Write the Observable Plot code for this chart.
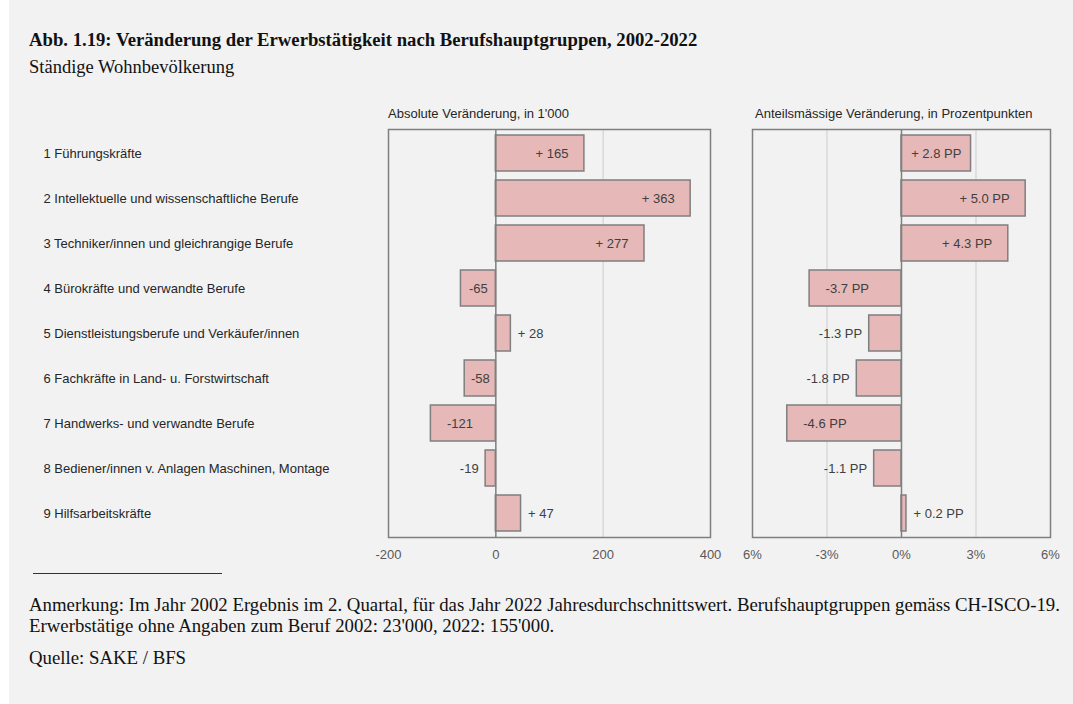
<!DOCTYPE html>
<html>
<head>
<meta charset="utf-8">
<script src="https://cdn.jsdelivr.net/npm/d3@7"></script>
<script src="https://cdn.jsdelivr.net/npm/@observablehq/plot@0.6"></script>
<style>
  html, body { margin: 0; padding: 0; background: #ffffff; }
  #page { position: relative; width: 1073px; height: 704px; background: #ffffff; overflow: hidden; }
  #bg { position: absolute; left: 9px; top: 0; width: 1064px; height: 704px; background: #f2f2f2; }
  .serif { font-family: "Liberation Serif", "Times New Roman", serif; color: #111; position: absolute; white-space: nowrap; }
  .sans { font-family: "Liberation Sans", Arial, sans-serif; color: #262626; position: absolute; white-space: nowrap; }
  svg { overflow: visible; }
</style>
</head>
<body>
<div id="page">
  <div id="bg"></div>
  <div class="serif" id="title" style="left:29px; top:29px; font-size:18.7px; font-weight:bold;"></div>
  <div class="serif" id="subtitle" style="left:29px; top:57px; font-size:18.5px;"></div>
  <div class="sans" id="t1" style="left:388px; top:106px; font-size:13px;"></div>
  <div class="sans" id="t2" style="left:755px; top:106px; font-size:13px;"></div>
  <div id="left" style="position:absolute; left:0px; top:119px;"></div>
  <div id="right" style="position:absolute; left:740px; top:119px;"></div>
  <div style="position:absolute; left:33px; top:573px; width:189px; border-top:1px solid #333;"></div>
  <div class="serif" id="note" style="left:29px; top:594px; font-size:18.8px; line-height:21px;"></div>
  <div class="serif" id="source" style="left:29px; top:647px; font-size:18.8px; line-height:21px;"></div>
</div>
<script>
// ---------- data ----------
const titleText = "Abb. 1.19: Veränderung der Erwerbstätigkeit nach Berufshauptgruppen, 2002-2022";
const subtitleText = "Ständige Wohnbevölkerung";
const panelTitleAbs = "Absolute Veränderung, in 1'000";
const panelTitlePP = "Anteilsmässige Veränderung, in Prozentpunkten";
const noteLines = [
  "Anmerkung: Im Jahr 2002 Ergebnis im 2. Quartal, für das Jahr 2022 Jahresdurchschnittswert. Berufshauptgruppen gemäss CH-ISCO-19.",
  "Erwerbstätige ohne Angaben zum Beruf 2002: 23'000, 2022: 155'000."
];
const sourceText = "Quelle: SAKE / BFS";

const categories = [
  "1 Führungskräfte",
  "2 Intellektuelle und wissenschaftliche Berufe",
  "3 Techniker/innen und gleichrangige Berufe",
  "4 Bürokräfte und verwandte Berufe",
  "5 Dienstleistungsberufe und Verkäufer/innen",
  "6 Fachkräfte in Land- u. Forstwirtschaft",
  "7 Handwerks- und verwandte Berufe",
  "8 Bediener/innen v. Anlagen Maschinen, Montage",
  "9 Hilfsarbeitskräfte"
];
const absChange = [165, 363, 277, -65, 28, -58, -121, -19, 47];
const ppChange = [2.8, 5.0, 4.3, -3.7, -1.3, -1.8, -4.6, -1.1, 0.2];
const absDomain = [-200, 400];
const absTicks = [-200, 0, 200, 400];
const ppDomain = [-6, 6];
const ppTicks = [-6, -3, 0, 3, 6];
const ppTickLabels = ["6%", "-3%", "0%", "3%", "6%"];

// ---------- text ----------
document.getElementById("title").textContent = titleText;
document.getElementById("subtitle").textContent = subtitleText;
document.getElementById("t1").textContent = panelTitleAbs;
document.getElementById("t2").textContent = panelTitlePP;
document.getElementById("note").innerHTML = noteLines.map(s => s.replace(/&/g,"&amp;")).join("<br>");
document.getElementById("source").textContent = sourceText;

// ---------- helpers ----------
const FONT = "'Liberation Sans', Arial, sans-serif";
const LABEL_SIZE = 13;
const ctx = document.createElement("canvas").getContext("2d");
ctx.font = `${LABEL_SIZE}px ${FONT}`;
const measure = s => ctx.measureText(s).width;

const fmtAbs = v => v > 0 ? "+ " + v : String(v);
const fmtPP = v => v > 0 ? "+ " + v.toFixed(1) + " PP" : v.toFixed(1) + " PP";

function makeLabels(values, fmt, ppu) {
  const groups = {start: [], middle: [], end: []};
  values.forEach((v, i) => {
    const txt = fmt(v);
    const tw = measure(txt);
    const w = Math.abs(v) * ppu;
    const s = v >= 0 ? 1 : -1;
    if (w >= tw + 10) {
      if (w > tw + 32) {
        groups[s > 0 ? "end" : "start"].push({cat: categories[i], x: v - s * 16 / ppu, txt});
      } else {
        groups.middle.push({cat: categories[i], x: v / 2, txt});
      }
    } else {
      groups[s > 0 ? "start" : "end"].push({cat: categories[i], x: v + s * 7 / ppu, txt});
    }
  });
  return groups;
}

const FRAME = "#7f7f7f";
const FILL = "#e6b8b7";
const GRID = "#d9d9d9";
const TOP = 10, INNER_H = 408, BOTTOM = 40;

function panel({values, fmt, domain, ticks, tickFormat, width, ml, mr, withCats}) {
  const ppu = (width - ml - mr) / (domain[1] - domain[0]);
  const data = categories.map((c, i) => ({cat: c, v: values[i]}));
  const labels = makeLabels(values, fmt, ppu);
  const grid = ticks.filter(t => t !== 0 && t > domain[0] && t < domain[1]);
  const marks = [
    Plot.ruleX(grid, {stroke: GRID, strokeWidth: 1.5}),
    Plot.barX(data, {x: "v", y: "cat", fill: FILL, stroke: FRAME, strokeWidth: 1.5}),
    Plot.ruleX([0], {stroke: FRAME, strokeWidth: 1.5}),
    Plot.frame({stroke: FRAME, strokeWidth: 1.5}),
    Plot.axisX({ticks, tickFormat, tickSize: 0, tickPadding: 12, fill: "#595959", fontSize: 13, label: null}),
    ...["start", "middle", "end"].map(a =>
      Plot.text(labels[a], {x: "x", y: "cat", text: "txt", textAnchor: a, fill: "#404040", fontSize: LABEL_SIZE}))
  ];
  if (withCats) {
    marks.push(Plot.text(categories, {y: d => d, text: d => d, frameAnchor: "left", textAnchor: "start",
      dx: 43 - ml, fill: "#262626", fontSize: 13}));
  }
  return Plot.plot({
    width, height: TOP + INNER_H + BOTTOM,
    marginLeft: ml, marginRight: mr, marginTop: TOP, marginBottom: BOTTOM,
    style: {background: "transparent", fontFamily: FONT, fontSize: "13px", overflow: "visible"},
    x: {domain},
    y: {domain: categories, paddingInner: 0.2, paddingOuter: 0.1, axis: null},
    marks
  });
}

document.getElementById("left").appendChild(panel({
  values: absChange, fmt: fmtAbs, domain: absDomain, ticks: absTicks,
  tickFormat: d => String(d), width: 730, ml: 388, mr: 20, withCats: true
}));
document.getElementById("right").appendChild(panel({
  values: ppChange, fmt: fmtPP, domain: ppDomain, ticks: ppTicks,
  tickFormat: (d, i) => ppTickLabels[ppTicks.indexOf(d)], width: 333, ml: 12, mr: 23, withCats: false
}));
</script>
</body>
</html>
